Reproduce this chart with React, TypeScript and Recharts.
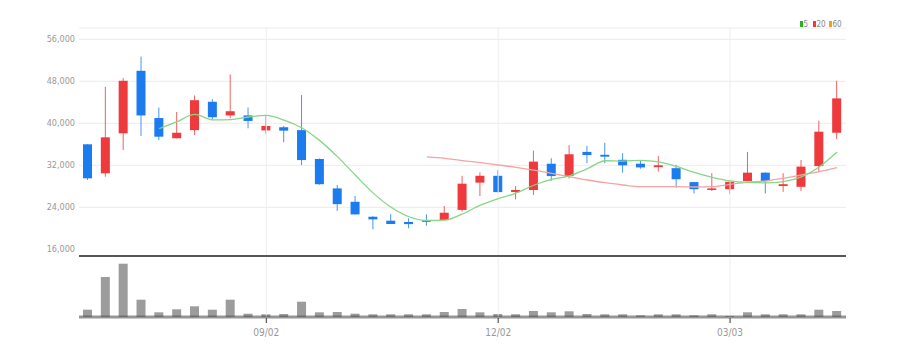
import React from 'react';
import { ComposedChart, Bar, Line, XAxis, YAxis, CartesianGrid, ReferenceLine } from 'recharts';

const dates = ['06/24','07/01','07/08','07/15','07/22','07/29','08/05','08/12','08/19','08/26','09/02','09/09','09/16','09/23','09/30','10/07','10/14','10/21','10/28','11/04','11/11','11/18','11/25','12/02','12/09','12/16','12/23','12/30','01/06','01/13','01/20','01/27','02/03','02/10','02/17','02/24','03/03','03/10','03/17','03/24','03/31','04/07','04/14'];
const opens = [36000,30480,38100,50000,41000,37150,38700,44100,41500,41500,38650,39250,38700,33200,27600,25050,22200,21450,21200,21550,21580,23500,28700,30000,26900,27300,32300,29950,34550,34000,33050,32300,31650,31450,28800,27300,27450,29000,30600,28050,27900,31850,38200];
const highs = [36000,46970,48600,52700,43000,42150,45300,44600,49300,43000,41500,39500,45400,33300,28250,26150,22300,22700,21900,22650,24250,30000,30650,31100,28050,34800,33350,35850,35700,36300,34300,33000,33750,32050,28850,30500,29000,34550,30650,30500,33000,40500,48100];
const lows = [29200,29830,34900,37600,36800,37150,37800,40750,40950,39050,38000,36400,32050,28300,23300,22600,19800,20800,20000,20500,21580,23150,26150,26800,25500,26350,29050,29500,32400,32400,30600,31350,30800,27750,26650,27100,26550,28900,26650,26950,27100,30700,37000];
const closes = [29520,37330,48100,41500,37450,38200,44400,41150,42300,40450,39500,38600,33000,28400,24600,22650,21700,20820,20800,21350,22970,28500,30000,26900,27300,32700,29950,34100,33950,33650,32000,31600,32000,29350,27450,27600,28850,30600,29000,28400,31750,38400,44750];
const volumes = [7300,40000,53300,17300,4700,7700,10700,7300,17300,3300,2700,3000,15300,4700,5000,3300,2700,2700,2700,2700,5000,8000,4700,3000,2700,6000,4700,5700,3000,2700,2700,1700,2700,2700,1700,2700,1000,4700,2700,2700,2700,7300,6000];
const ma5 = [null,null,null,null,39000,40300,41700,40650,40700,41200,41500,40600,39100,36700,33600,30100,26700,24000,22200,21500,21550,22750,24400,25650,26700,28200,29300,30000,31350,32870,32800,32950,32660,31800,30630,29700,29030,28730,28640,28880,29780,31680,34520];
const ma20 = [null,null,null,null,null,null,null,null,null,null,null,null,null,null,null,null,null,null,null,33600,33330,32880,32500,32060,31620,31100,30480,29830,29200,28690,28250,27920,27920,27920,27870,27920,28380,28760,29010,29520,30150,30780,31540];
const priceTicks = [16000,24000,32000,40000,48000,56000];
const xTickLabels = ['09/02','12/02','03/03'];
const legendItems = [{ name: '5', color: '#22b422' }, { name: '20', color: '#ee3b3b' }, { name: '60', color: '#f59a23' }];

const data = dates.map((d, i) => ({
  date: d, open: opens[i], high: highs[i], low: lows[i], close: closes[i],
  vol: volumes[i], ma5: ma5[i], ma20: ma20[i],
}));

const RED = '#ee3a3d';
const BLUE = '#1a7cef';
const FONT = "'Liberation Sans Narrow', 'DejaVu Sans Condensed', 'Arial Narrow', sans-serif";

const Candle = (props: any) => {
  const { x, y, width, height, payload } = props;
  if (!payload) return <g />;
  const { open, close, high, low } = payload;
  const up = close >= open;
  const color = up ? RED : BLUE;
  const yTop = Math.min(y, y + height);
  const h = Math.abs(height);
  const ratio = high - low > 0 ? h / (high - low) : 0;
  const top = yTop + (high - Math.max(open, close)) * ratio;
  const bot = yTop + (high - Math.min(open, close)) * ratio;
  const cx = x + width / 2;
  return (
    <g>
      <line x1={cx} x2={cx} y1={yTop} y2={yTop + h} stroke={color} strokeWidth={1} opacity={0.8} />
      <rect x={x} y={top} width={width} height={Math.max(bot - top, 1.6)} fill={color} />
    </g>
  );
};

const XTick = (props: any) => {
  const { x, y, payload } = props;
  if (!payload || !xTickLabels.includes(payload.value)) return <g />;
  return (
    <g>
      <line x1={x} x2={x} y1={y + 1} y2={y + 6} stroke="#333" strokeWidth={1} />
      <text x={x} y={y + 19} textAnchor="middle" fontSize={10} fill="#999" fontFamily={FONT}>{payload.value}</text>
    </g>
  );
};

export default function App() {
  return (
    <div style={{ position: 'absolute', left: 0, top: 0, width: 900, height: 356, background: '#fff', overflow: 'hidden' }}>
      <div style={{ position: 'absolute', left: 0, top: 0 }}>
        <ComposedChart width={900} height={257} data={data} margin={{ top: 28, right: 54, left: 0, bottom: 0 }}>
          <CartesianGrid vertical={false} stroke="#ececec" />
          <XAxis dataKey="date" type="category" height={1} tick={false} tickLine={false} axisLine={{ stroke: '#222', strokeWidth: 1.6 }} />
          <YAxis type="number" domain={[14724, 58153]} allowDataOverflow ticks={priceTicks} width={79}
            axisLine={false} tickLine={false} tickSize={0} tickMargin={4}
            tick={{ fontSize: 9, fill: '#999', fontFamily: FONT }}
            tickFormatter={(v: number) => v.toLocaleString('en-US')} />
          {xTickLabels.map((t) => (
            <ReferenceLine key={t} x={t} stroke="#eeeeee" strokeWidth={1} />
          ))}
          <Bar dataKey={(d: any) => [d.low, d.high]} barSize={9} shape={<Candle />} isAnimationActive={false} />
          <Line type="monotone" dataKey="ma20" stroke="#f5a3a3" strokeWidth={1.3} dot={false} isAnimationActive={false} connectNulls={false} />
          <Line type="monotone" dataKey="ma5" stroke="#86d686" strokeWidth={1.3} dot={false} isAnimationActive={false} connectNulls={false} />
        </ComposedChart>
      </div>
      <div style={{ position: 'absolute', left: 0, top: 256 }}>
        <ComposedChart width={900} height={100} data={data} margin={{ top: 2, right: 54, left: 79, bottom: 0 }}>
          <XAxis dataKey="date" type="category" height={39} interval={0} tickLine={false} tickSize={0} tickMargin={0}
            tick={<XTick />} axisLine={{ stroke: 'rgba(80,80,80,0.6)', strokeWidth: 3 }} />
          <YAxis hide domain={[0, 59000]} allowDataOverflow />
          {xTickLabels.map((t) => (
            <ReferenceLine key={t} x={t} stroke="#eeeeee" strokeWidth={1} />
          ))}
          <Bar dataKey="vol" barSize={9} fill="#9c9c9c" isAnimationActive={false} />
        </ComposedChart>
      </div>
      <svg width={60} height={14} style={{ position: 'absolute', left: 796, top: 16 }}>
        {legendItems.map((it, i) => {
          const xs = [4, 17, 33][i];
          return (
            <g key={it.name}>
              <rect x={xs} y={5} width={3} height={6} fill={it.color} />
              <text x={xs + 3.5} y={11} fontSize={8} fill="#888" fontFamily={FONT}>{it.name}</text>
            </g>
          );
        })}
      </svg>
    </div>
  );
}
